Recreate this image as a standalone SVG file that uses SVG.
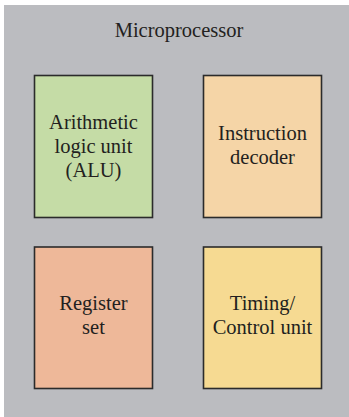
<svg xmlns="http://www.w3.org/2000/svg" width="349" height="417" viewBox="0 0 349 417">
<style>
.box{stroke:#2b2b2b;stroke-width:1.6}
text{font-family:"Liberation Serif","Times New Roman",serif;font-size:20.5px;fill:#231f20;text-anchor:middle}
</style>
<rect x="0" y="0" width="349" height="417" fill="#ffffff"/>
<g id="microprocessor">
<rect x="4" y="5" width="345" height="412" fill="#bbbcc0"/>
<text x="179" y="37">Microprocessor</text>
</g>
<g id="alu">
<rect class="box" x="34.5" y="75.5" width="118" height="142" fill="#c5dca6"/>
<text x="93.5" y="128.5">Arithmetic</text>
<text x="93.5" y="152.5">logic unit</text>
<text x="93.5" y="176.5">(ALU)</text>
</g>
<g id="decoder">
<rect class="box" x="203.5" y="75.5" width="118" height="142" fill="#f5d5a7"/>
<text x="262.5" y="139.5">Instruction</text>
<text x="262.5" y="163.5">decoder</text>
</g>
<g id="registers">
<rect class="box" x="34.5" y="247" width="118" height="141.5" fill="#eeb899"/>
<text x="93.5" y="310">Register</text>
<text x="93.5" y="334">set</text>
</g>
<g id="timing">
<rect class="box" x="203.5" y="247" width="118" height="141.5" fill="#f6da92"/>
<text x="262.5" y="310">Timing/</text>
<text x="262.5" y="334">Control unit</text>
</g>
<g id="connectors"></g>
</svg>
